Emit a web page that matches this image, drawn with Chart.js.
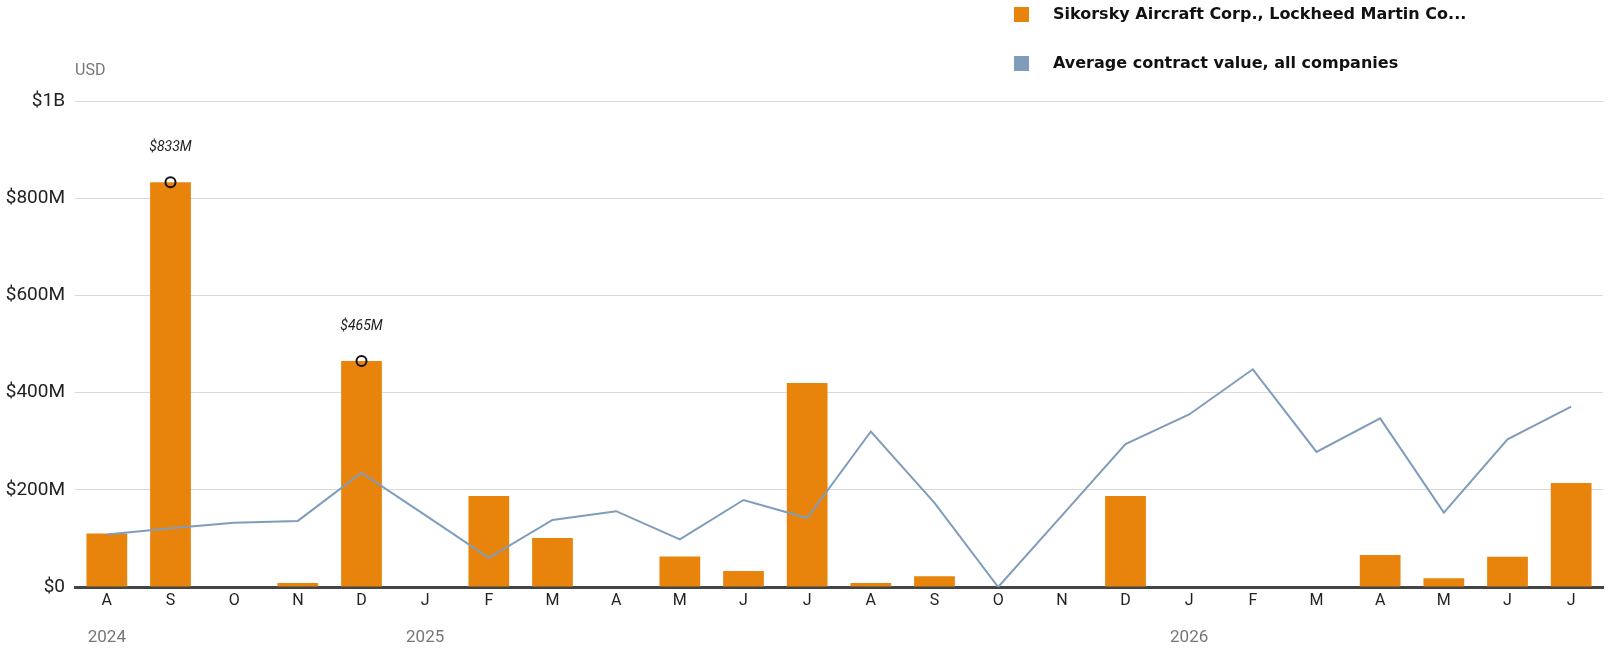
<!DOCTYPE html>
<html>
<head>
<meta charset="utf-8">
<script src="https://cdn.jsdelivr.net/npm/chart.js@4/dist/chart.umd.min.js"></script>
<style>
  html, body { margin: 0; padding: 0; background: #fff; }
  #wrap { position: relative; width: 1610px; height: 656px; }
  canvas { display: block; }
  #unit { position: absolute; left: 75px; top: 60px; font: 16px Roboto, sans-serif; color: #777; }
  .leg { position: absolute; left: 1014px; font: bold 16px "DejaVu Sans", sans-serif; color: #111; white-space: nowrap; }
  .leg span { position: absolute; left: 0; width: 15px; height: 15px; }
  .leg b { position: absolute; left: 39px; top: -3px; }
</style>
</head>
<body>
<div id="wrap">
  <canvas id="barChart" width="1610" height="656"></canvas>
  <div id="unit">USD</div>
  <div class="leg" style="top:7px"><span style="background:#E8830C"></span><b>Sikorsky Aircraft Corp., Lockheed Martin Co...</b></div>
  <div class="leg" style="top:56px"><span style="background:#7F9DBA"></span><b>Average contract value, all companies</b></div>
</div>
<script>
// months Aug 2024 .. Jul 2026, values in millions USD
var monthLabels = ['A','S','O','N','D','J','F','M','A','M','J','J','A','S','O','N','D','J','F','M','A','M','J','J'];
var yearLabels  = ['2024','','','','','2025','','','','','','','','','','','','2026','','','','','',''];
var companyValues = [110, 833, 0, 8, 465, 0, 187, 101, 0, 63, 33, 420, 8, 22, 0, 0, 187, 0, 0, 0, 66, 18, 62, 214];
var averageValues = [108, 121, 132, 136, 235, 148, 60, 138, 156, 98, 179, 142, 320, 173, 0, 147, 294, 355, 448, 278, 347, 153, 304, 371];
var highlightValues = [null, 833, null, null, 465, null, null, null, null, null, null, null, null, null, null, null, null, null, null, null, null, null, null, null];
var yTicks = [0, 200, 400, 600, 800, 1000];

function fmtMoney(v) {
    if (v >= 1000) return '$' + (v / 1000) + 'B';
    if (v === 0) return '$0';
    return '$' + v + 'M';
}

// labels over the highlighted points
var pointLabels = {
    id: 'pointLabels',
    afterDatasetsDraw: function(chart) {
        var meta = chart.getDatasetMeta(2);
        var ctx = chart.ctx;
        ctx.save();
        ctx.font = 'italic 14px "Liberation Sans Narrow", Roboto, sans-serif';
        ctx.fillStyle = '#222';
        ctx.textAlign = 'center';
        ctx.textBaseline = 'middle';
        meta.data.forEach(function(pt, i) {
            var v = highlightValues[i];
            if (v === null || pt.skip) return;
            ctx.fillText(fmtMoney(v), pt.x, pt.y - 35);
        });
        ctx.restore();
    }
};

var ctx = document.getElementById('barChart').getContext('2d');
new Chart(ctx, {
    type: 'bar',
    data: {
        labels: monthLabels,
        datasets: [
            {
                type: 'bar',
                label: 'Sikorsky Aircraft Corp., Lockheed Martin Co...',
                data: companyValues,
                backgroundColor: '#E8830C',
                categoryPercentage: 1,
                barPercentage: 0.64,
                order: 3
            },
            {
                type: 'line',
                label: 'Average contract value, all companies',
                data: averageValues,
                borderColor: '#7F9DBA',
                borderWidth: 2,
                pointRadius: 0,
                tension: 0,
                fill: false,
                order: 2
            },
            {
                type: 'line',
                label: 'highlight',
                data: highlightValues,
                showLine: false,
                pointRadius: 5,
                pointBorderWidth: 2,
                pointBorderColor: '#111',
                pointBackgroundColor: 'rgba(0,0,0,0)',
                order: 1
            }
        ]
    },
    options: {
        responsive: false,
        animation: false,
        layout: { padding: { top: 101, right: 4, bottom: 0, left: 0 } },
        plugins: {
            legend: { display: false },
            tooltip: { enabled: false }
        },
        scales: {
            x: {
                position: 'bottom',
                offset: true,
                z: 1,
                afterFit: function(scale) { scale.height = 24; },
                grid: { display: false, drawTicks: false },
                border: { display: true, color: '#444', width: 3 },
                ticks: {
                    color: '#222',
                    padding: 4,
                    maxRotation: 0,
                    autoSkip: false,
                    font: { family: 'Roboto', size: 16 }
                }
            },
            x2: {
                type: 'category',
                position: 'bottom',
                labels: yearLabels,
                offset: true,
                afterFit: function(scale) { scale.height = 45; },
                grid: { display: false, drawTicks: false },
                border: { display: false },
                ticks: {
                    color: '#777',
                    padding: 17,
                    maxRotation: 0,
                    autoSkip: false,
                    font: { family: 'Roboto', size: 17 }
                }
            },
            y: {
                min: 0,
                max: 1000,
                afterFit: function(scale) { scale.width = 75; },
                afterBuildTicks: function(scale) {
                    scale.ticks = yTicks.map(function(v) { return { value: v }; });
                },
                grid: {
                    drawTicks: false,
                    color: function(c) { return c.tick && c.tick.value === 0 ? 'rgba(0,0,0,0)' : '#d9d9d9'; },
                    lineWidth: 1
                },
                border: { display: false },
                ticks: {
                    color: '#222',
                    padding: 10,
                    font: { family: 'Roboto', size: 19 },
                    callback: function(v) { return fmtMoney(v); }
                }
            }
        }
    },
    plugins: [pointLabels]
});
</script>
</body>
</html>
